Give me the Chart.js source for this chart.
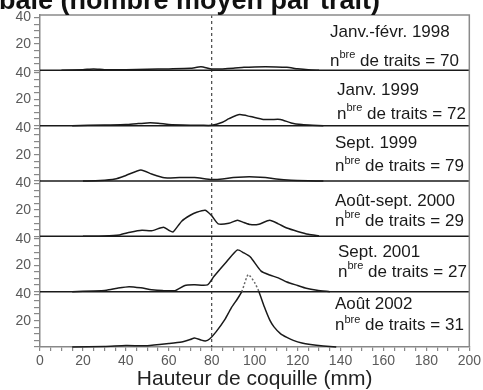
<!DOCTYPE html>
<html lang="fr">
<head>
<meta charset="utf-8">
<title>Hauteur de coquille</title>
<style>
  html, body { margin: 0; padding: 0; background: #fff; }
  #box { width: 483px; height: 390px; }
</style>
</head>
<body>
<div id="box"><canvas id="myChart"></canvas></div>
<script src="https://cdn.jsdelivr.net/npm/chart.js@4/dist/chart.umd.min.js"></script>
<script>
// panels, top to bottom
const periodes = ['Janv.-févr. 1998', 'Janv. 1999', 'Sept. 1999', 'Août-sept. 2000', 'Sept. 2001', 'Août 2002'];
const nbTraits = [70, 72, 79, 29, 27, 31];

// hauteur de coquille (mm) / nombre moyen par trait
const hauteur1998 = [10, 20, 25, 30, 40, 50, 60, 70, 75, 80, 85, 90, 95, 100, 110, 115, 120, 125, 130];
const nombre1998  = [0, 0.5, 1.1, 0.5, 0.5, 0.8, 1.1, 1.5, 2.7, 1.1, 1.1, 1.5, 2.3, 2.6, 2.6, 2.3, 1.2, 0.4, 0];

const hauteur1999a = [15, 30, 40, 45, 50, 55, 60, 70, 75, 80, 85, 88, 93, 98, 104, 108, 112, 117, 122, 127, 132];
const nombre1999a  = [0, 0.5, 0.8, 1.5, 2.1, 1.9, 0.8, 0.3, 0.3, 0.3, 2.6, 5.3, 8.4, 6.9, 4.7, 4.7, 4.7, 2.1, 0.8, 0.3, 0];

const hauteur1999b = [20, 28, 35, 40, 47, 52, 58, 65, 72, 80, 85, 90, 95, 100, 105, 110, 117, 125, 132];
const nombre1999b  = [0, 0.3, 1.5, 4.2, 8.4, 5.3, 2.4, 2.6, 2.6, 1.1, 1.5, 2.6, 3.1, 3.1, 2.6, 1.5, 0.6, 0.2, 0];

const hauteur2000 = [20, 30, 37, 42, 47.5, 52, 57.5, 60, 62, 66, 70, 73, 77, 80, 83, 88, 92, 95, 98, 102, 107, 111, 115, 120, 125, 130];
const nombre2000  = [0, 0.3, 1.1, 3.1, 4.6, 4.2, 6.9, 4.6, 3.4, 11.5, 16, 18.3, 19.8, 15.6, 9.5, 9.9, 12.2, 10.5, 8.9, 9.2, 12.2, 9.5, 6.3, 3.7, 1.5, 0.3];

const hauteur2001 = [15, 25, 31, 36, 41.5, 47, 52, 57, 63, 67.5, 72, 78, 81, 87, 92, 95, 98, 103, 107, 111, 115, 120, 124, 129, 135];
const nombre2001  = [0, 0.5, 1.1, 2.6, 3.8, 2.9, 1.5, 0.8, 0.8, 4.7, 5.2, 5.2, 11.5, 22.9, 31.7, 29.4, 26.3, 15.6, 12.6, 10.5, 7.3, 4.7, 2.6, 1.1, 0];

const hauteur2002 = [15, 30, 40, 50, 60, 66, 70, 72, 75, 77, 79, 82, 86, 89, 92, 94, 97, 100, 102, 104.5, 107, 109, 112, 115, 118, 122, 126, 132, 138];
const nombre2002  = [0, 0.3, 1.1, 1, 2.6, 3.8, 5.7, 6.9, 5.3, 4.6, 6.1, 11.5, 20.6, 29.4, 36.6, 42, 55, 48.9, 42, 30.5, 20.6, 15.3, 10.2, 7.3, 5, 3, 1.9, 0.8, 0];

const hauteurs = [hauteur1998, hauteur1999a, hauteur1999b, hauteur2000, hauteur2001, hauteur2002];
const nombres  = [nombre1998, nombre1999a, nombre1999b, nombre2000, nombre2001, nombre2002];

const yTickLabels = [20, 40];
const xTickLabels = [0, 20, 40, 60, 80, 100, 120, 140, 160, 180, 200];
const repere = 80;       // ligne pointillée
const panelMax = 42;

const panelIds = periodes.map((p, i) => 'y' + i);

// label placement in each panel (px from panel top)
const textPos = [
  { x: 330, d1: 17, d2: 46 },
  { x: 337, d1: 20, d2: 44 },
  { x: 335, d1: 18, d2: 41 },
  { x: 335, d1: 20, d2: 40 },
  { x: 338, d1: 16, d2: 36 },
  { x: 335, d1: 13, d2: 34 }
];

const FONT = "'Liberation Sans', Arial, Helvetica, sans-serif";

var datasets = periodes.map(function (p, i) {
  return {
    label: p,
    data: hauteurs[i].map((h, k) => ({ x: h, y: nombres[i][k] })),
    yAxisID: panelIds[i],
    borderColor: '#1a1a1a',
    borderWidth: 1.5,
    pointRadius: 0,
    tension: 0.2,
    fill: false,
    clip: false,
    segment: {
      borderDash: c => (c.p0.parsed.y > panelMax + 0.01 || c.p1.parsed.y > panelMax + 0.01) ? [2, 2] : undefined,
      borderColor: c => (c.p0.parsed.y > panelMax + 0.01 || c.p1.parsed.y > panelMax + 0.01) ? '#666' : undefined
    }
  };
});

function panelAxis(i) {
  return {
    type: 'linear',
    position: 'left',
    stack: 'panels',
    stackWeight: 1,
    offset: false,
    min: 0,
    max: panelMax,
    border: { color: '#888', width: 1.5 },
    grid: { drawOnChartArea: false, tickLength: 6, color: '#888', lineWidth: 1.2 },
    ticks: {
      stepSize: 5,
      autoSkip: false,
      includeBounds: false,
      padding: 3,
      color: '#5a5a5a',
      font: { family: FONT, size: 14 },
      callback: v => yTickLabels.includes(v) ? String(v) : ''
    },
    afterFit: s => { s.width = 40; }
  };
}

var scales = {
  x: {
    type: 'linear',
    min: 0,
    max: 200,
    border: { color: '#888', width: 1.5 },
    grid: { drawOnChartArea: false, tickLength: 4, color: '#888', lineWidth: 1.2 },
    ticks: {
      stepSize: 5,
      autoSkip: false,
      maxRotation: 0,
      padding: 2,
      color: '#5a5a5a',
      font: { family: FONT, size: 14 },
      callback: v => xTickLabels.includes(v) ? String(v) : ''
    },
    title: {
      display: true,
      text: 'Hauteur de coquille (mm)',
      color: '#222',
      font: { family: FONT, size: 21 },
      padding: { top: 0, bottom: -2 }
    },
    afterFit: s => { s.height = 43; }
  }
};
// the stack is laid out from the last axis upward, so add bottom panel first
panelIds.slice().reverse().forEach(id => { scales[id] = panelAxis(panelIds.indexOf(id)); });

const panelDecor = {
  id: 'panelDecor',
  beforeDatasetsDraw(chart) {
    const { ctx, chartArea: a } = chart;
    ctx.save();
    // séparations entre panneaux
    ctx.strokeStyle = '#1a1a1a';
    ctx.lineWidth = 1.5;
    panelIds.forEach((id, i) => {
      if (i === panelIds.length - 1) return;
      const y = chart.scales[id].getPixelForValue(0);
      ctx.beginPath();
      ctx.moveTo(a.left, y);
      ctx.lineTo(a.right, y);
      ctx.stroke();
    });
    // ligne verticale à 80 mm
    const x = chart.scales.x.getPixelForValue(repere);
    ctx.strokeStyle = '#222';
    ctx.lineWidth = 1;
    ctx.setLineDash([3, 3]);
    ctx.beginPath();
    ctx.moveTo(x, a.top);
    ctx.lineTo(x, a.bottom);
    ctx.stroke();
    ctx.restore();
  },
  afterDraw(chart) {
    const { ctx, chartArea: a } = chart;
    ctx.save();
    // cadre
    ctx.strokeStyle = '#8a8a8a';
    ctx.lineWidth = 1.5;
    ctx.beginPath();
    ctx.moveTo(a.left, a.top);
    ctx.lineTo(a.right, a.top);
    ctx.lineTo(a.right, a.bottom);
    ctx.stroke();

    // textes des panneaux
    ctx.fillStyle = '#1a1a1a';
    ctx.textBaseline = 'middle';
    ctx.textAlign = 'left';
    panelIds.forEach((id, i) => {
      const top = chart.scales[id].top;
      const pos = textPos[i];
      ctx.font = '17px ' + FONT;
      ctx.fillText(periodes[i], pos.x, top + pos.d1);
      let x = pos.x;
      const y = top + pos.d2;
      ctx.fillText('n', x, y);
      x += ctx.measureText('n').width;
      ctx.font = '11px ' + FONT;
      ctx.fillText('bre', x, y - 6);
      x += ctx.measureText('bre').width;
      ctx.font = '17px ' + FONT;
      ctx.fillText(' de traits = ' + nbTraits[i], x, y);
    });

    // titre (coupé en haut)
    ctx.font = 'bold 27px ' + FONT;
    ctx.textBaseline = 'alphabetic';
    ctx.fillStyle = '#111';
    ctx.fillText('bale (nombre moyen par trait)', -1, 9);
    ctx.restore();
  }
};

var ctx = document.getElementById('myChart');
var myChart = new Chart(ctx, {
  type: 'line',
  data: { datasets: datasets },
  options: {
    responsive: true,
    maintainAspectRatio: false,
    animation: false,
    layout: { padding: { top: 15, right: 9, left: 0, bottom: 0 } },
    plugins: { legend: { display: false }, tooltip: { enabled: false } },
    scales: scales
  },
  plugins: [panelDecor]
});
</script>
</body>
</html>
